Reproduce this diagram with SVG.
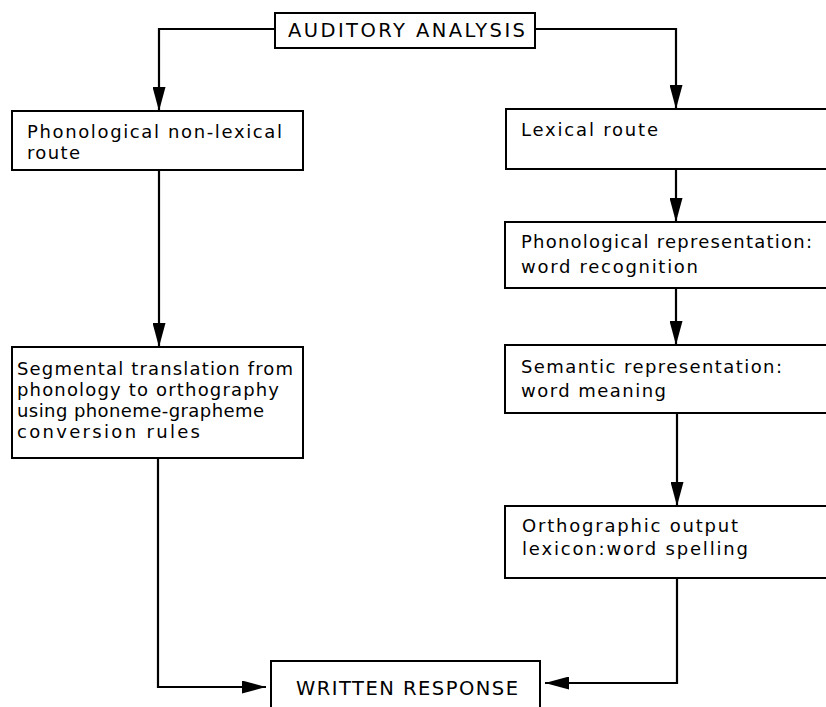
<svg xmlns="http://www.w3.org/2000/svg" width="826" height="707" viewBox="0 0 826 707">
<style>
.box{fill:#fff;stroke:#000;stroke-width:2}
.t{font-family:"DejaVu Sans",sans-serif;font-size:18px;fill:#000}
.c{font-family:"DejaVu Sans",sans-serif;font-size:19.5px;fill:#000}
.ln{fill:none;stroke:#000;stroke-width:2.2}
</style>
<defs>
<marker id="ah" markerUnits="userSpaceOnUse" markerWidth="24" markerHeight="13" refX="24" refY="6.5" orient="auto">
<path d="M0,0 L24,6.5 L0,13 z" fill="#000"/>
</marker>
</defs>
<rect width="826" height="707" fill="#fff"/>
<g id="connectors">
<path class="ln" d="M275,29 H159 V111" marker-end="url(#ah)"/>
<path class="ln" d="M535,29 H676 V109" marker-end="url(#ah)"/>
<path class="ln" d="M159,170 V347" marker-end="url(#ah)"/>
<path class="ln" d="M158,458 V687 H266" marker-end="url(#ah)"/>
<path class="ln" d="M676,169 V222" marker-end="url(#ah)"/>
<path class="ln" d="M676,288 V345" marker-end="url(#ah)"/>
<path class="ln" d="M677,413 V506" marker-end="url(#ah)"/>
<path class="ln" d="M677,578 V683 H545" marker-end="url(#ah)"/>
</g>
<g id="auditory">
<rect class="box" x="275" y="13" width="260" height="35"/>
<text class="c" x="288" y="37" textLength="237" lengthAdjust="spacing">AUDITORY ANALYSIS</text>
</g>
<g id="phon-nonlexical">
<rect class="box" x="12" y="111" width="291" height="59"/>
<text class="t" x="27" y="138" textLength="255" lengthAdjust="spacing">Phonological non-lexical</text>
<text class="t" x="27" y="159" textLength="53" lengthAdjust="spacing">route</text>
</g>
<g id="segmental">
<rect class="box" x="12" y="347" width="291" height="111"/>
<text class="t" x="17" y="375" textLength="276" lengthAdjust="spacing">Segmental translation from</text>
<text class="t" x="17" y="396" textLength="262" lengthAdjust="spacing">phonology to orthography</text>
<text class="t" x="17" y="417" textLength="247" lengthAdjust="spacing">using phoneme-grapheme</text>
<text class="t" x="17" y="438" textLength="183" lengthAdjust="spacing">conversion rules</text>
</g>
<g id="lexical">
<rect class="box" x="506" y="109" width="330" height="60"/>
<text class="t" x="521" y="136" textLength="137" lengthAdjust="spacing">Lexical route</text>
</g>
<g id="phon-rep">
<rect class="box" x="505" y="222" width="330" height="66"/>
<text class="t" x="521" y="248" textLength="291" lengthAdjust="spacing">Phonological representation:</text>
<text class="t" x="521" y="273" textLength="177" lengthAdjust="spacing">word recognition</text>
</g>
<g id="semantic">
<rect class="box" x="505" y="345" width="330" height="68"/>
<text class="t" x="521" y="373" textLength="261" lengthAdjust="spacing">Semantic representation:</text>
<text class="t" x="521" y="397" textLength="145" lengthAdjust="spacing">word meaning</text>
</g>
<g id="orthographic">
<rect class="box" x="505" y="506" width="330" height="72"/>
<text class="t" x="522" y="532" textLength="216" lengthAdjust="spacing">Orthographic output</text>
<text class="t" x="522" y="555" textLength="226" lengthAdjust="spacing">lexicon:word spelling</text>
</g>
<g id="written">
<rect class="box" x="271" y="661" width="269" height="60"/>
<text class="c" x="296" y="695" textLength="222" lengthAdjust="spacing">WRITTEN RESPONSE</text>
</g>
</svg>
